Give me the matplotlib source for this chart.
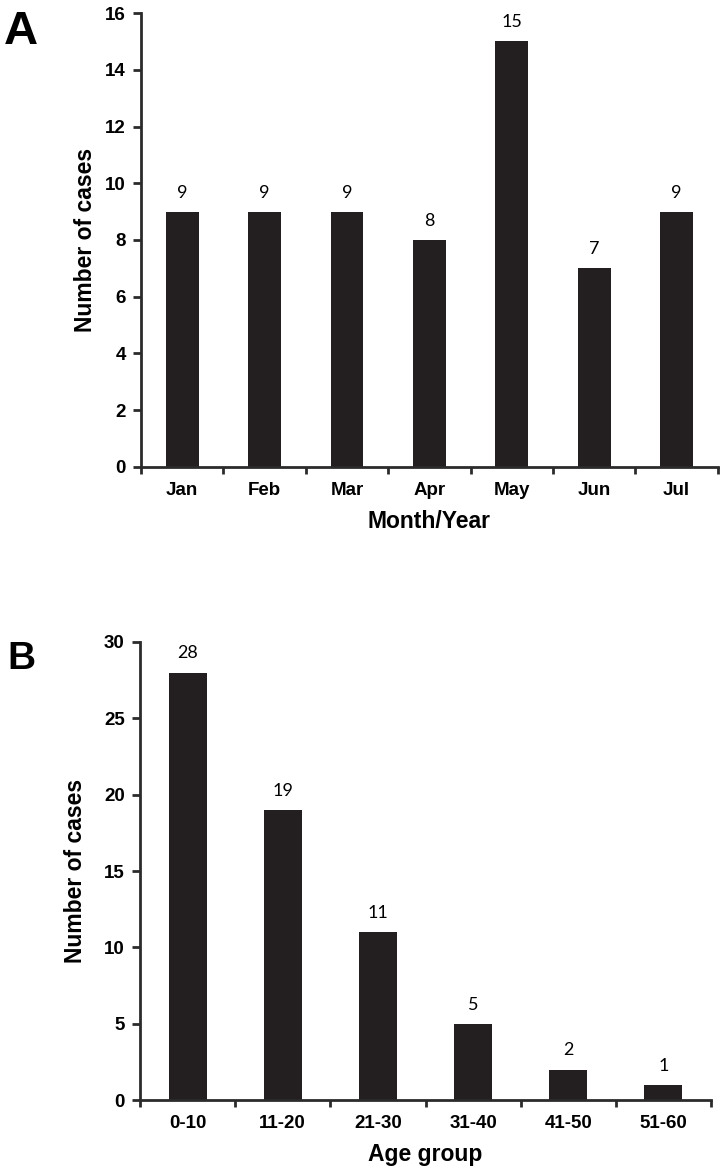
import matplotlib.pyplot as plt

months = ['Jan', 'Feb', 'Mar', 'Apr', 'May', 'Jun', 'Jul']
month_cases = [9, 9, 9, 8, 15, 7, 9]

age_groups = ['0-10', '11-20', '21-30', '31-40', '41-50', '51-60']
age_cases = [28, 19, 11, 5, 2, 1]

bar_color = '#231f20'
axis_color = '#2b2b2b'
plt.rcParams['font.family'] = ['Liberation Sans', 'DejaVu Sans']

fig = plt.figure(figsize=(7.25, 11.73), dpi=100)
ax_a = fig.add_axes([0.1945, 0.6019, 0.7955, 0.3870])
ax_b = fig.add_axes([0.1931, 0.0622, 0.7876, 0.3905])


def draw_panel(ax, labels, values, ymax, ystep, xlabel, ylabel_pad):
    n = len(labels)
    x = list(range(n))
    bars = ax.bar(x, values, width=0.4, color=bar_color)
    ax.bar_label(bars, padding=8, fontsize=13, family='Lato')
    ax.set_xlim(-0.5, n - 0.5)
    ax.set_ylim(0, ymax)
    ax.set_yticks(range(0, ymax + 1, ystep))
    ax.set_xticks([i - 0.5 for i in range(n + 1)])
    ax.set_xticklabels([])
    ax.set_xticks(x, minor=True)
    ax.set_xticklabels(labels, minor=True, fontsize=13.5, fontweight='bold')
    ax.tick_params(axis='x', which='major', direction='out', length=5,
                   width=2, color=axis_color)
    ax.tick_params(axis='x', which='minor', length=0, pad=11)
    ax.tick_params(axis='y', direction='out', length=6, width=2,
                   color=axis_color, pad=5, labelsize=13.5)
    for t in ax.get_yticklabels():
        t.set_fontweight('bold')
    for side in ['top', 'right']:
        ax.spines[side].set_visible(False)
    for side in ['left', 'bottom']:
        ax.spines[side].set_linewidth(2)
        ax.spines[side].set_color(axis_color)
    ax.set_xlabel(xlabel, fontsize=16.5, fontweight='bold', labelpad=8)
    ax.set_ylabel('Number of cases', fontsize=16.5, fontweight='bold',
                  labelpad=ylabel_pad)


draw_panel(ax_a, months, month_cases, 16, 2, 'Month/Year', 6)
draw_panel(ax_b, age_groups, age_cases, 30, 5, 'Age group', 12)

fig.text(0.005, 0.973, 'A', fontsize=34, fontweight='bold', va='center')
fig.text(0.010, 0.438, 'B', fontsize=28, fontweight='bold', va='center')

fig.savefig('out.png', dpi=100)
